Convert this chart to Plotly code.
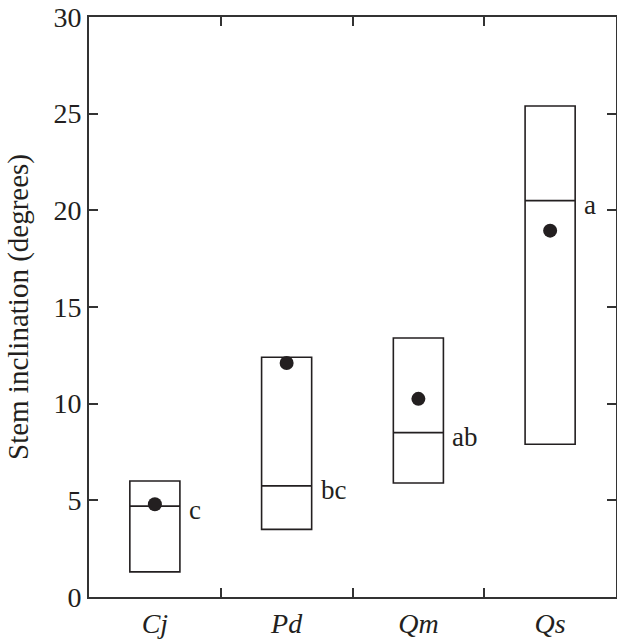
import plotly.graph_objects as go

species = ["Cj", "Pd", "Qm", "Qs"]
q1 = [1.3, 3.5, 5.9, 7.9]
median = [4.7, 5.75, 8.5, 20.5]
q3 = [6.0, 12.4, 13.4, 25.4]
mean = [4.8, 12.1, 10.25, 18.95]
letters = ["c", "bc", "ab", "a"]

labels = [f"<i>{s}</i>" for s in species]
FONT = "Liberation Serif"
INK = "#231f20"

fig = go.Figure()
fig.add_trace(go.Box(
    x=labels, q1=q1, median=median, q3=q3,
    lowerfence=q1, upperfence=q3,
    width=0.38, fillcolor="white",
    line=dict(color=INK, width=1.6),
    whiskerwidth=0, boxpoints=False, hoverinfo="skip",
    showlegend=False,
))
fig.add_trace(go.Scatter(
    x=labels, y=mean, mode="markers",
    marker=dict(color=INK, size=14),
    showlegend=False,
))
for lab, m, t in zip(labels, median, letters):
    fig.add_annotation(x=lab, y=m, text=t, showarrow=False,
                       xanchor="left", yanchor="middle",
                       xshift=32, yshift=-4,
                       font=dict(family=FONT, size=27, color=INK))

axis_common = dict(
    showline=True, linecolor="#333333", linewidth=2, mirror="allticks",
    ticks="inside", ticklen=9, tickwidth=1.6, tickcolor="#333333",
    showgrid=False, zeroline=False, automargin=False,
    tickfont=dict(family=FONT, size=28, color=INK),
)
fig.update_xaxes(**axis_common, type="category", tickson="boundaries",
                 categoryorder="array", categoryarray=labels,
                 range=[-0.5, 3.5])
fig.update_yaxes(**axis_common, range=[0, 30], tickvals=[0, 5, 10, 15, 20, 25, 30],
                 title=dict(text="Stem inclination (degrees)",
                            font=dict(family=FONT, size=29, color=INK),
                            standoff=16))
fig.update_layout(
    width=617, height=640,
    margin=dict(l=89, r=1, t=17, b=43),
    paper_bgcolor="white", plot_bgcolor="white",
)
fig.write_html("out.html", config={"displayModeBar": False},
               post_script="document.body.style.margin='0';document.body.style.overflow='hidden';")
